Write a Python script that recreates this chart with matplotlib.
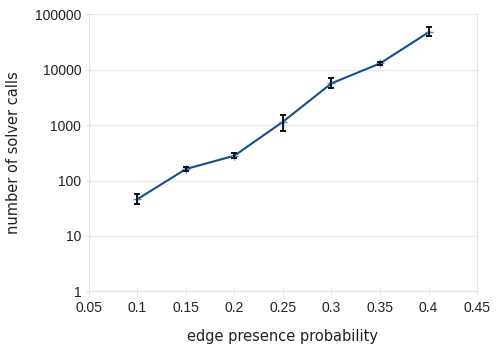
import numpy as np
import matplotlib.pyplot as plt
from matplotlib.ticker import FixedLocator, FixedFormatter, NullLocator

# data
prob = [0.1, 0.15, 0.2, 0.25, 0.3, 0.35, 0.4]
calls = [46, 161, 280, 1146, 5640, 12900, 46800]
err_low = [38, 150, 254, 780, 4580, 12300, 40200]
err_high = [57, 172, 309, 1514, 6930, 13500, 57600]

x_ticks = [0.05, 0.1, 0.15, 0.2, 0.25, 0.3, 0.35, 0.4, 0.45]
x_labels = ['0.05', '0.1', '0.15', '0.2', '0.25', '0.3', '0.35', '0.4', '0.45']
y_ticks = [1, 10, 100, 1000, 10000, 100000]
y_labels = ['1', '10', '100', '1000', '10000', '100000']

fig = plt.figure(figsize=(4.99, 3.52), dpi=100)
ax = fig.add_axes([0.178, 0.172, 0.778, 0.788])

yerr = np.array([np.array(calls) - np.array(err_low), np.array(err_high) - np.array(calls)])
ax.errorbar(prob, calls, yerr=yerr, fmt='none', ecolor='#111111', elinewidth=1.4,
            capsize=2.5, capthick=1.4, zorder=3)
ax.plot(prob, calls, color='#134f8c', lw=1.5, marker='+', ms=6, mew=1,
        mec='#4a86c0', zorder=2)

ax.set_yscale('log')
ax.set_xlim(0.05, 0.45)
ax.set_ylim(1, 100000)

ax.xaxis.set_major_locator(FixedLocator(x_ticks))
ax.xaxis.set_major_formatter(FixedFormatter(x_labels))
ax.yaxis.set_major_locator(FixedLocator(y_ticks))
ax.yaxis.set_major_formatter(FixedFormatter(y_labels))
ax.yaxis.set_minor_locator(NullLocator())

ax.grid(axis='y', color='#ebebeb', lw=1)
for s in ['left', 'right', 'bottom']:
    ax.spines[s].set_color('#e6e6e6')
ax.spines['top'].set_visible(False)
ax.tick_params(colors='#e0e0e0', labelcolor='#222222', length=4, width=0.8,
               labelsize=10, direction='inout')
ax.tick_params(axis='x', pad=5)
for lab in ax.get_xticklabels() + ax.get_yticklabels():
    lab.set_fontfamily('Liberation Sans')

ax.set_xlabel('edge presence probability', fontsize=10.5, color='#222222', labelpad=10)
ax.set_ylabel('number of solver calls', fontsize=10.5, color='#222222', labelpad=10)

fig.savefig('out.png', dpi=100)
